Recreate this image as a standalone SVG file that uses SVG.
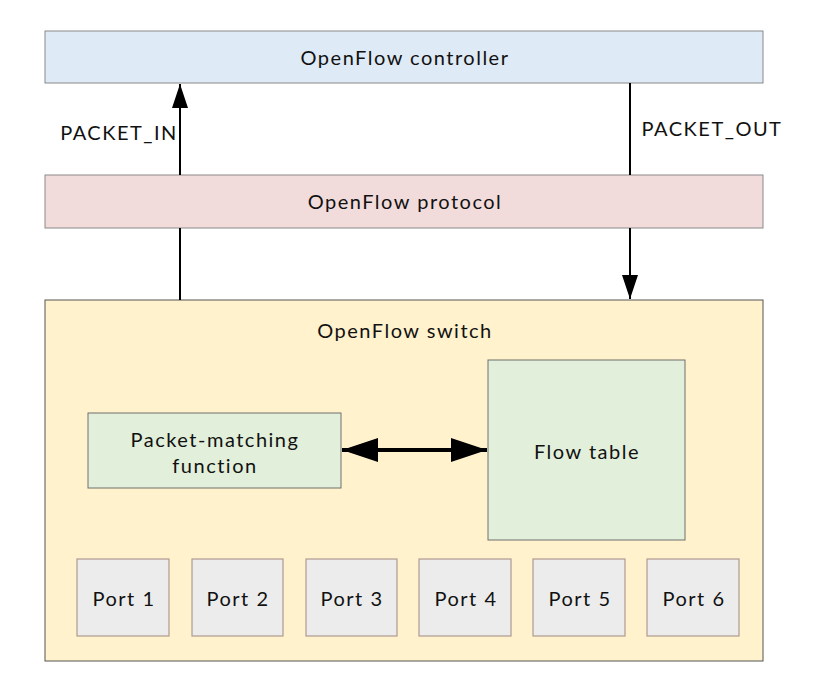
<svg xmlns="http://www.w3.org/2000/svg" width="832" height="697" viewBox="0 0 832 697">
<style>
text{font-family:Lato,"Liberation Sans",sans-serif;font-size:20px;letter-spacing:1.5px;fill:#111;text-anchor:middle;dominant-baseline:central}
.box{stroke:#8a8a8a;stroke-width:1}
.port{fill:#ececec;stroke:#b09a90;stroke-width:1.2}
.green{fill:#e2efda;stroke:#6f6f6f;stroke-width:1}
.conn{stroke:#000;stroke-width:2;fill:none}
</style>
<defs>
<marker id="ah" viewBox="0 0 24 16" refX="24" refY="8" markerWidth="24" markerHeight="16" markerUnits="userSpaceOnUse" orient="auto"><path d="M0,0 L24,8 L0,16 z" fill="#000"/></marker>
<marker id="ahb" viewBox="0 0 36 24" refX="36" refY="12" markerWidth="36" markerHeight="24" markerUnits="userSpaceOnUse" orient="auto-start-reverse"><path d="M0,0 L36,12 L0,24 z" fill="#000"/></marker>
</defs>
<rect width="832" height="697" fill="#fff"/>
<g id="controller"><rect class="box" x="45" y="31" width="718" height="52" fill="#deeaf6"/><text x="405" y="57">OpenFlow controller</text></g>
<g id="protocol"><rect class="box" x="45" y="175" width="718" height="53" fill="#f2dcdb"/><text x="405" y="201">OpenFlow protocol</text></g>
<g id="switch"><rect x="45" y="300" width="718" height="361" fill="#fff2cc" stroke="#555" stroke-width="1"/><text x="405" y="330">OpenFlow switch</text></g>
<g id="pmf"><rect class="green" x="88" y="413" width="253" height="75"/><text x="215" y="439">Packet-matching</text><text x="215" y="465">function</text></g>
<g id="flowtable"><rect class="green" x="488" y="360" width="197" height="180"/><text x="587" y="451">Flow table</text></g>
<g id="port1"><rect class="port" x="77" y="559" width="92" height="77"/><text x="124" y="598">Port 1</text></g>
<g id="port2"><rect class="port" x="192" y="559" width="91" height="77"/><text x="238" y="598">Port 2</text></g>
<g id="port3"><rect class="port" x="306" y="559" width="91" height="77"/><text x="352" y="598">Port 3</text></g>
<g id="port4"><rect class="port" x="419" y="559" width="92" height="77"/><text x="466" y="598">Port 4</text></g>
<g id="port5"><rect class="port" x="533" y="559" width="92" height="77"/><text x="580" y="598">Port 5</text></g>
<g id="port6"><rect class="port" x="647" y="559" width="92" height="77"/><text x="694" y="598">Port 6</text></g>
<g id="connectors">
<line class="conn" x1="180" y1="300" x2="180" y2="228"/>
<line class="conn" x1="180" y1="175" x2="180" y2="84" marker-end="url(#ah)"/>
<line class="conn" x1="630" y1="83" x2="630" y2="175"/>
<line class="conn" x1="630" y1="228" x2="630" y2="299" marker-end="url(#ah)"/>
<line x1="342" y1="450" x2="487" y2="450" stroke="#000" stroke-width="4" marker-start="url(#ahb)" marker-end="url(#ahb)"/>
<text x="119" y="132">PACKET_IN</text>
<text x="712" y="128">PACKET_OUT</text>
</g>
</svg>
